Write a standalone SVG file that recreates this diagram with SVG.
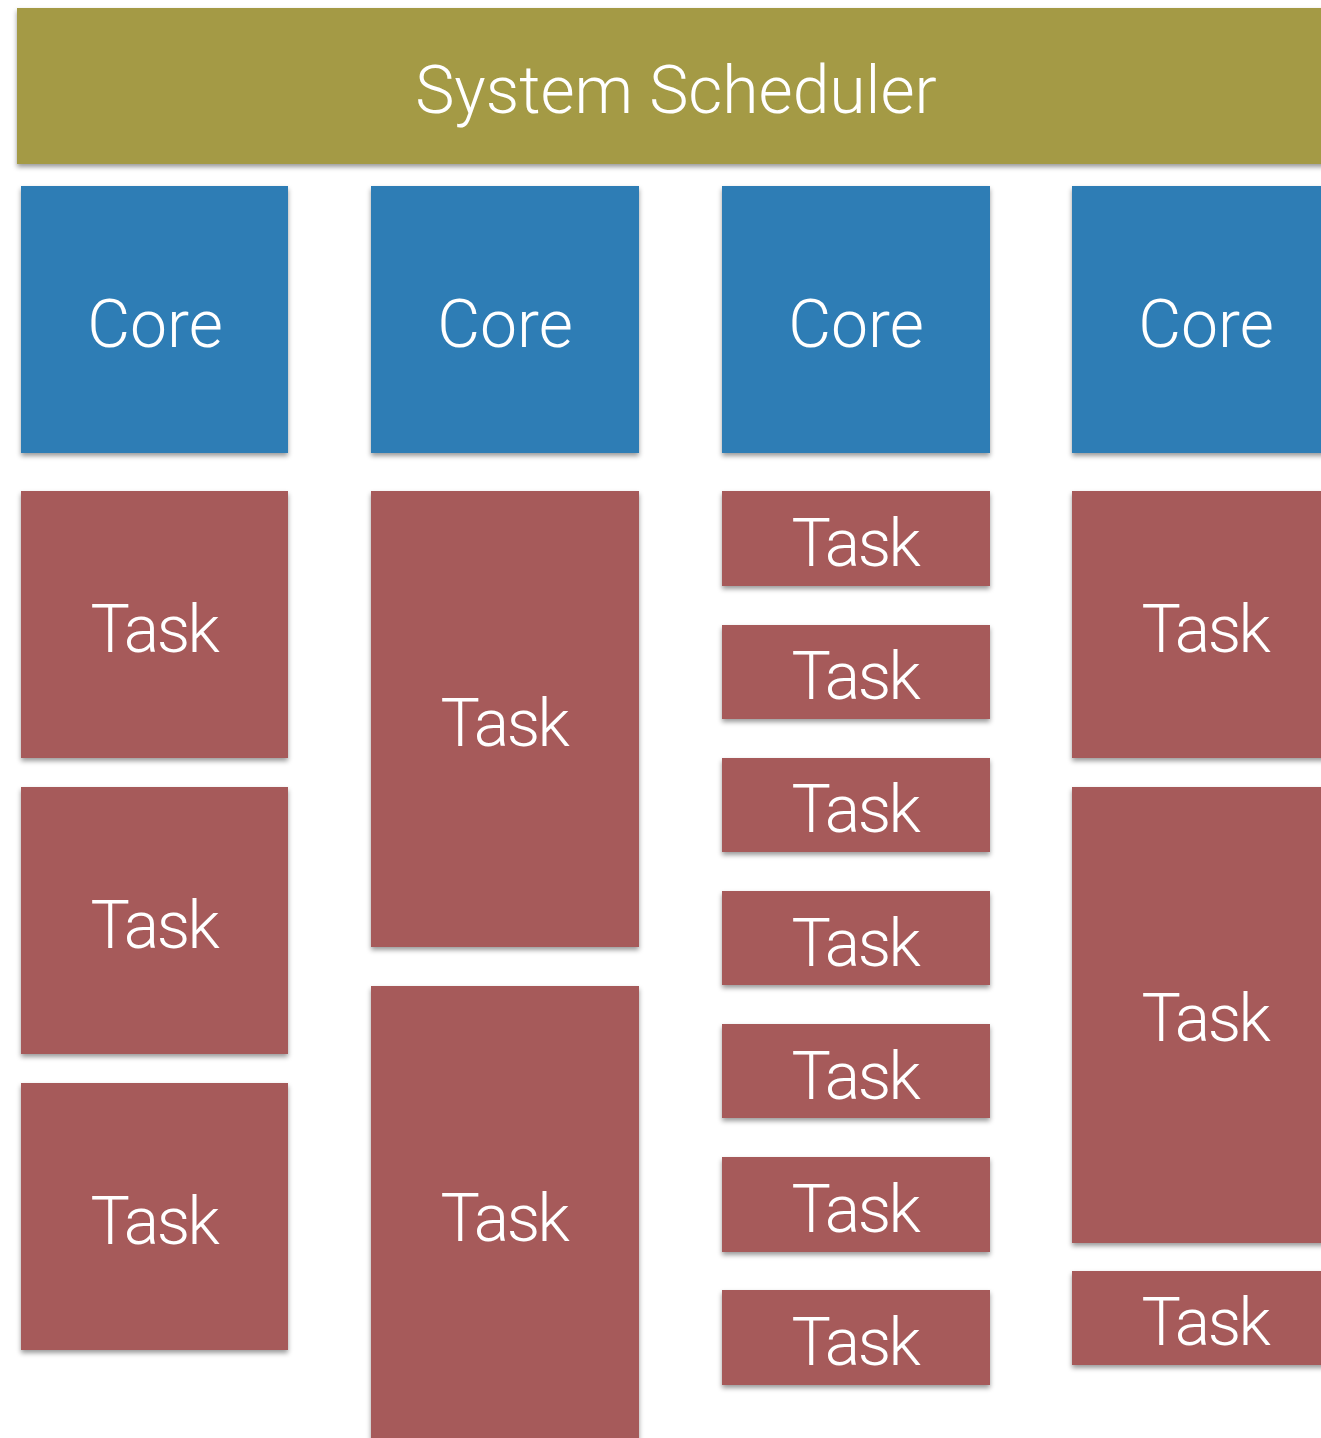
<svg xmlns="http://www.w3.org/2000/svg" width="1321" height="1438" viewBox="0 0 1321 1438">
<defs>
<filter id="sh" x="-10%" y="-10%" width="120%" height="130%">
<feDropShadow dx="0" dy="3" stdDeviation="2.5" flood-color="#000" flood-opacity="0.4"/>
</filter>
</defs>
<style>
.sched{fill:#a49a44}
.core{fill:#2e7db5}
.task{fill:#a65a5a}
text{font-family:Roboto,"Liberation Sans",sans-serif;font-weight:300;font-size:66px;fill:#fff;text-anchor:middle}
.t{letter-spacing:-2.5px}
</style>
<rect width="1321" height="1438" fill="#fff"/>
<g id="scheduler"><rect class="sched" x="17" y="8" width="1318" height="156" filter="url(#sh)"/><text x="676" y="113">System Scheduler</text></g>
<g id="core1"><rect class="core" x="21" y="186" width="267" height="267" filter="url(#sh)"/><text x="155" y="347">Core</text></g>
<g id="core2"><rect class="core" x="371" y="186" width="268" height="267" filter="url(#sh)"/><text x="505" y="347">Core</text></g>
<g id="core3"><rect class="core" x="722" y="186" width="268" height="267" filter="url(#sh)"/><text x="856" y="347">Core</text></g>
<g id="core4"><rect class="core" x="1072" y="186" width="268" height="267" filter="url(#sh)"/><text x="1206" y="347">Core</text></g>
<g id="task1a"><rect class="task" x="21" y="491" width="267" height="267" filter="url(#sh)"/><text class="t" x="154" y="652">Task</text></g>
<g id="task1b"><rect class="task" x="21" y="787" width="267" height="267" filter="url(#sh)"/><text class="t" x="154" y="948">Task</text></g>
<g id="task1c"><rect class="task" x="21" y="1083" width="267" height="267" filter="url(#sh)"/><text class="t" x="154" y="1244">Task</text></g>
<g id="task2a"><rect class="task" x="371" y="491" width="268" height="456" filter="url(#sh)"/><text class="t" x="504" y="746">Task</text></g>
<g id="task2b"><rect class="task" x="371" y="986" width="268" height="470" filter="url(#sh)"/><text class="t" x="504" y="1241">Task</text></g>
<g id="task3a"><rect class="task" x="722" y="491" width="268" height="95" filter="url(#sh)"/><text class="t" x="855" y="566">Task</text></g>
<g id="task3b"><rect class="task" x="722" y="625" width="268" height="94" filter="url(#sh)"/><text class="t" x="855" y="699">Task</text></g>
<g id="task3c"><rect class="task" x="722" y="758" width="268" height="94" filter="url(#sh)"/><text class="t" x="855" y="832">Task</text></g>
<g id="task3d"><rect class="task" x="722" y="891" width="268" height="94" filter="url(#sh)"/><text class="t" x="855" y="966">Task</text></g>
<g id="task3e"><rect class="task" x="722" y="1024" width="268" height="94" filter="url(#sh)"/><text class="t" x="855" y="1099">Task</text></g>
<g id="task3f"><rect class="task" x="722" y="1157" width="268" height="95" filter="url(#sh)"/><text class="t" x="855" y="1232">Task</text></g>
<g id="task3g"><rect class="task" x="722" y="1290" width="268" height="95" filter="url(#sh)"/><text class="t" x="855" y="1365">Task</text></g>
<g id="task4a"><rect class="task" x="1072" y="491" width="268" height="267" filter="url(#sh)"/><text class="t" x="1205" y="652">Task</text></g>
<g id="task4b"><rect class="task" x="1072" y="787" width="268" height="456" filter="url(#sh)"/><text class="t" x="1205" y="1041">Task</text></g>
<g id="task4c"><rect class="task" x="1072" y="1271" width="268" height="94" filter="url(#sh)"/><text class="t" x="1205" y="1345">Task</text></g>
<g id="connectors"/>
</svg>
